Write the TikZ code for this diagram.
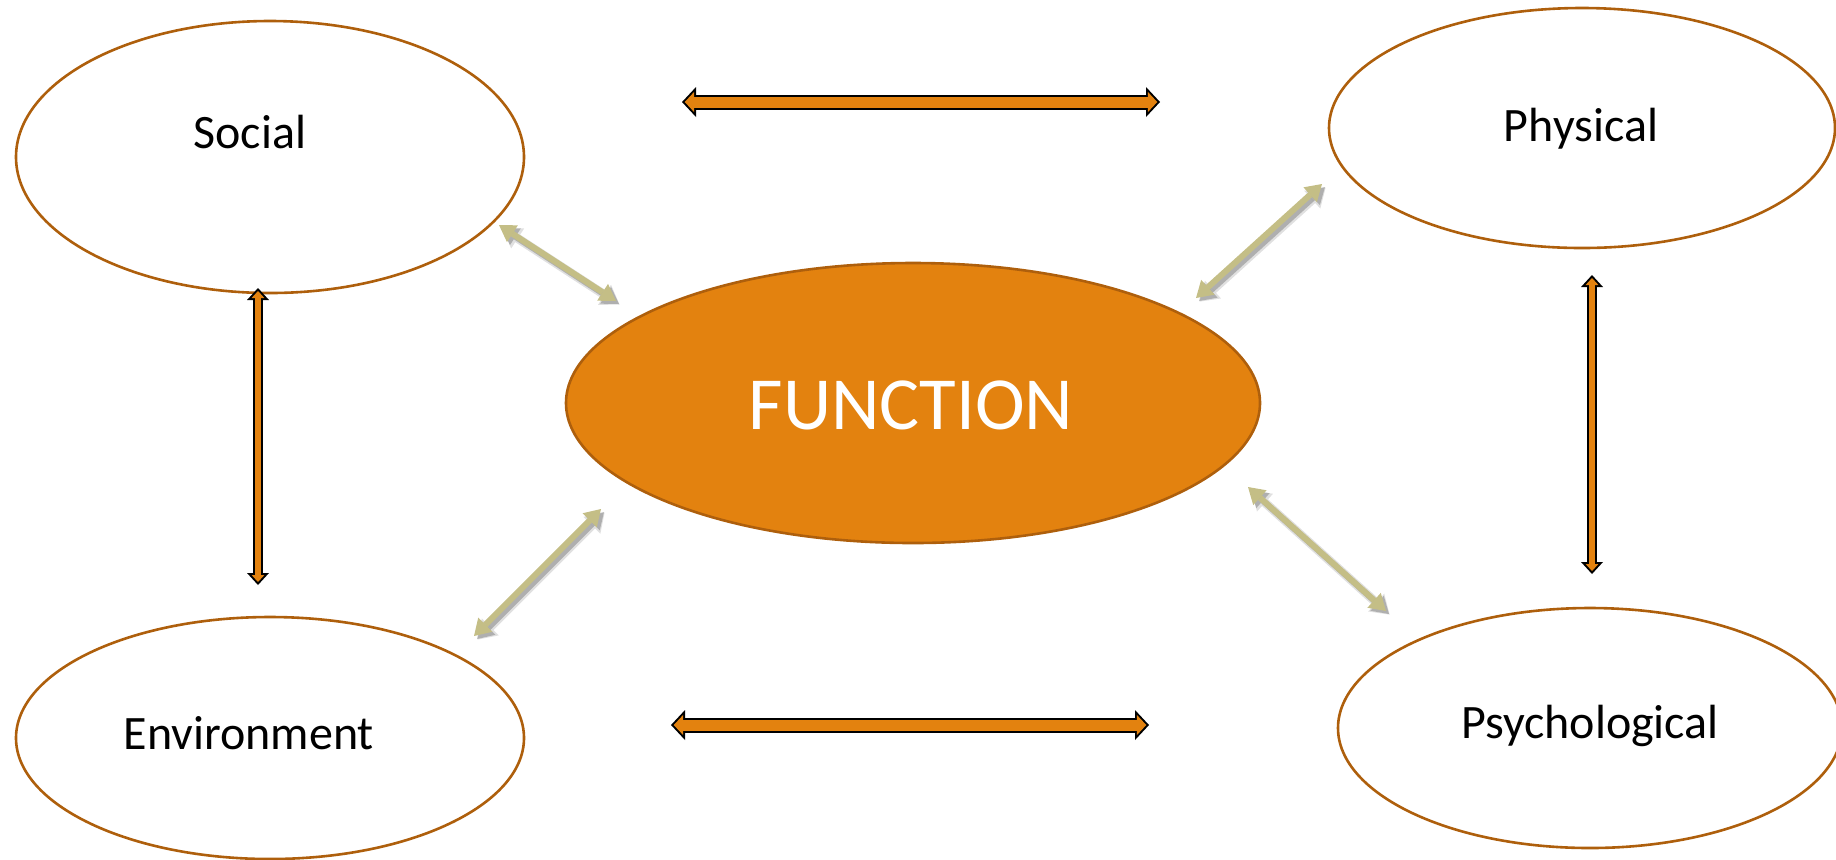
\documentclass[tikz,border=0pt]{standalone}
\usepackage{fontspec}
\setmainfont{Carlito}
\usetikzlibrary{shapes.geometric,arrows.meta}
\definecolor{forange}{HTML}{E3820F}
\definecolor{fbrown}{HTML}{AE5F0C}
\definecolor{fkhaki}{HTML}{C4BE86}
\begin{document}
\begin{tikzpicture}[x=0.5pt,y=-0.5pt,
  ell/.style={ellipse, draw=fbrown, line width=1.3pt, fill=white, inner sep=0pt},
  lbl/.style={font=\fontsize{24}{28}\selectfont, inner sep=0pt},
  hout/.style={draw=black, line width=7.5pt,
    {Triangle[length=7pt,width=15pt,line width=0pt]}-{Triangle[length=7pt,width=15pt,line width=0pt]}},
  hin/.style={draw=forange, line width=5.5pt, shorten >=1.37pt, shorten <=1.37pt,
    {Triangle[length=4.65pt,width=9.96pt,line width=0pt]}-{Triangle[length=4.65pt,width=9.96pt,line width=0pt]}},
  vout/.style={draw=black, line width=5pt,
    {Triangle[length=6pt,width=11pt,line width=0pt]}-{Triangle[length=6pt,width=11pt,line width=0pt]}},
  vin/.style={draw=forange, line width=3pt, shorten >=1.5pt, shorten <=1.5pt,
    {Triangle[length=3.5pt,width=6.4pt,line width=0pt]}-{Triangle[length=3.5pt,width=6.4pt,line width=0pt]}},
  karrow/.style={draw=fkhaki, line width=3pt,
    {Triangle[length=8pt,width=10pt,line width=0pt]}-{Triangle[length=8pt,width=10pt,line width=0pt]}},
  kshadowA/.style={draw=black, line width=4.5pt, opacity=0.12,
    {Triangle[length=9pt,width=12pt,line width=0pt]}-{Triangle[length=9pt,width=12pt,line width=0pt]},
    transform canvas={xshift=1.8pt,yshift=-1.8pt}},
  kshadowB/.style={draw=black, line width=3pt, opacity=0.22,
    {Triangle[length=8pt,width=10pt,line width=0pt]}-{Triangle[length=8pt,width=10pt,line width=0pt]},
    transform canvas={xshift=1.5pt,yshift=-1.5pt}}
]
\useasboundingbox (0,0) rectangle (1836,859);

% ellipses
\node[ell, minimum width=254pt, minimum height=136pt] (social) at (270,157) {};
\node[ell, minimum width=253pt, minimum height=120pt] (physical) at (1582,128) {};
\node[ell, minimum width=254pt, minimum height=121pt] (environment) at (270,738) {};
\node[ell, minimum width=252pt, minimum height=120pt] (psych) at (1590,728) {};
\node[ellipse, draw=fbrown, line width=1.3pt, fill=forange, inner sep=0pt,
      minimum width=347pt, minimum height=140pt] (function) at (913,403) {};

% labels
\node[lbl] (socialtxt) at (250,132) {Social};
\node[lbl] (physicaltxt) at (1581,129) {Physical};
\node[lbl] (environmenttxt) at (249,733) {Environment};
\node[lbl] (psychtxt) at (1590,726) {Psychological};
\node[font=\fontsize{37.5}{41}\selectfont, text=white, inner sep=0pt] (functiontxt) at (911,405) {FUNCTION};

% arrow end points
\coordinate (t1) at (682,102);  \coordinate (t2) at (1160,102);
\coordinate (b1) at (671,725);  \coordinate (b2) at (1149,725);
\coordinate (l1) at (258,288);  \coordinate (l2) at (258,585);
\coordinate (r1) at (1592,275); \coordinate (r2) at (1592,574);
\coordinate (s1) at (499,225);  \coordinate (s2) at (616,301);
\coordinate (p1) at (1322,184); \coordinate (p2) at (1196,298);
\coordinate (e1) at (474,636);  \coordinate (e2) at (601,509);
\coordinate (q1) at (1248,487); \coordinate (q2) at (1386,611);

% orange block arrows
\draw[hout] (t1) -- (t2); \draw[hin] (t1) -- (t2);
\draw[hout] (b1) -- (b2); \draw[hin] (b1) -- (b2);
\draw[vout] (l1) -- (l2); \draw[vin] (l1) -- (l2);
\draw[vout] (r1) -- (r2); \draw[vin] (r1) -- (r2);

% khaki arrows with shadow
\foreach \a/\b in {s1/s2, p1/p2, e1/e2, q1/q2}{
  \draw[kshadowA] (\a) -- (\b);
  \draw[kshadowB] (\a) -- (\b);
  \draw[karrow] (\a) -- (\b);
}
\end{tikzpicture}
\end{document}
